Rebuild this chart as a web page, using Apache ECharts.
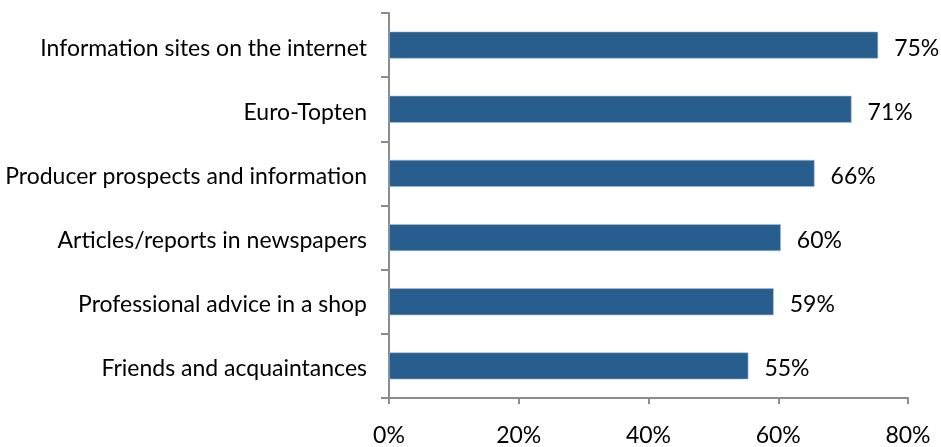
<!DOCTYPE html>
<html><head><meta charset="utf-8">
<script src="https://cdn.jsdelivr.net/npm/echarts@6/dist/echarts.min.js"></script>
<style>html,body{margin:0;padding:0;background:#fff}#c{width:941px;height:447px}</style>
</head><body><div id="c"></div>
<script>
const categories = ["Friends and acquaintances","Professional advice in a shop","Articles/reports in newspapers","Producer prospects and information","Euro-Topten","Information sites on the internet"];
const values = [55.4, 59.3, 60.4, 65.6, 71.3, 75.4];
const xTicks = [0, 20, 40, 60, 80];
const chart = echarts.init(document.getElementById('c'));
const font = "Lato, 'Open Sans', sans-serif";
chart.setOption({
  animation:false,
  grid:{left:389, right:33, top:13, bottom:42, containLabel:false},
  xAxis:{type:'value', min:xTicks[0], max:xTicks[xTicks.length-1], interval:20,
    axisLine:{show:true, lineStyle:{color:'#8c8c8c', width:2}},
    axisTick:{show:true, length:6, lineStyle:{color:'#8c8c8c', width:2}},
    splitLine:{show:false},
    axisLabel:{formatter:v=>v+'%', fontFamily:font, fontSize:23, color:'#000', margin:26}},
  yAxis:{type:'category', data:categories,
    axisLine:{show:true, lineStyle:{color:'#8c8c8c', width:2}},
    axisTick:{show:true, length:8, alignWithLabel:false, lineStyle:{color:'#8c8c8c', width:2}},
    axisLabel:{fontFamily:font, fontSize:23, color:'#000', margin:22, verticalAlign:'top', lineHeight:6}},
  series:[{type:'bar', data:values, barWidth:27,
    itemStyle:{color:'#275e8e', borderColor:'#a9c0d6', borderWidth:0.6},
    label:{show:true, position:'right', distance:16, offset:[0,3], fontFamily:font, fontSize:23, color:'#000',
      formatter:p=>Math.round(p.value)+'%'}}]
});
</script></body></html>
